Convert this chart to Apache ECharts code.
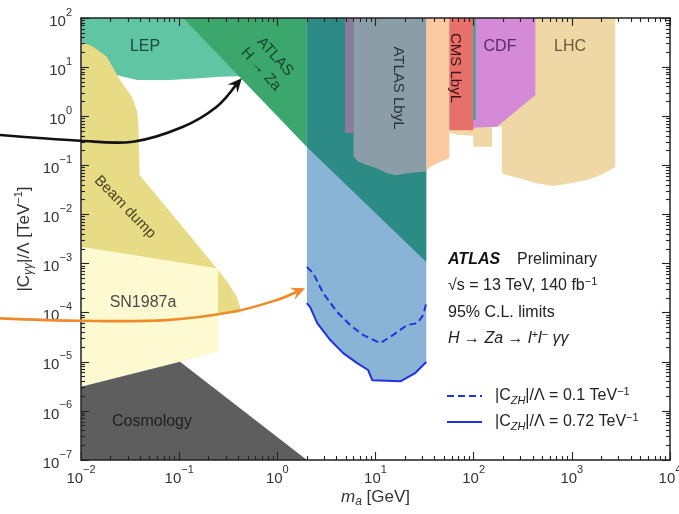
<!DOCTYPE html>
<html><head><meta charset="utf-8">
<script src="https://cdn.jsdelivr.net/npm/echarts@6/dist/echarts.min.js"></script>
<style>html,body{margin:0;padding:0;background:#fff}#c{width:679px;height:514px}</style>
</head><body><div id="c"></div>
<script>
const FONT = "'Liberation Sans', Arial, Helvetica, sans-serif";

// ---- axis ticks ----
const xMajorTicks = [0.01, 0.1, 1, 10, 100, 1000, 10000];
const yMajorTicks = [1e-7, 1e-6, 1e-5, 1e-4, 1e-3, 1e-2, 1e-1, 1, 10, 100];
const minorMultipliers = [2, 3, 4, 5, 6, 7, 8, 9];

// ---- excluded regions (m_a [GeV], |C_γγ|/Λ [TeV^-1]) ----
const regionLEP = [[0.01,100],[0.45,100],[0.45,6.6],[0.261,6.4],[0.175,6.0],[0.0807,5.46],[0.037,5.46],[0.0231,6.9],[0.01,10]];
const regionBeamDump = [[0.01,32.9],[0.0133,26],[0.0183,16.3],[0.025,5.46],[0.0329,2.49],[0.037,1.34],[0.0384,0.73],[0.0395,0.0634],[0.2416,8.0e-4],[0.315,4.0e-4],[0.386,2.1e-4],[0.425,1.13e-4],[0.425,1.0e-4],[0.01,1.0e-4]];
const regionSN1987a = [[0.01,3.1e-6],[0.01,2.2e-3],[0.2416,8.0e-4],[0.249,7.8e-4],[0.249,1.6e-5],[0.102,1e-5]];
const regionCosmology = [[0.01,1e-7],[0.01,3.1e-6],[0.102,1e-5],[2.0,1e-7]];
const regionHZa = [[0.1097,100],[2.0,100],[2.0,0.236]];
const regionBlueTop = [[2.0,100],[32.9,100]];
const regionOverlap = [[2.0,100],[32.9,100],[32.9,1.07e-3],[2.0,0.236]];
const regionLbyLStrip = [[4.9,100],[5.97,100],[5.97,0.455],[4.9,0.455]];
const regionLbyL = [[5.97,100],[32.9,100],[32.9,0.074],[26.4,0.072],[20.9,0.069],[16.5,0.063],[13.1,0.069],[10.3,0.087],[8.17,0.101],[6.71,0.118],[5.97,0.150]];
const regionPeach = [[32.9,100],[56.4,100],[56.4,0.14],[48,0.122],[42.6,0.11],[37,0.095],[32.9,0.08]];
const regionLHC = [[56.4,100],[2770,100],[2770,0.094],[2466,0.080],[1953,0.063],[1430,0.050],[966,0.043],[648,0.038],[441,0.043],[298,0.054],[219,0.063],[194,0.069],[194,0.61],[154,0.61],[154,0.24],[99,0.24],[99,0.4],[68,0.42],[60,0.45],[56.4,0.45]];
const regionCDF = [[68,100],[425,100],[425,2.7],[173,0.61],[68,0.568]];
const regionCMS = [[56.4,100],[99,100],[99,0.52],[56.4,0.52]];
const regionStrip = [[99,100],[105,100],[105,0.84],[99,0.84]];

// ---- limit curves ----
const limitDashed = [[2.0,8.5e-4],[2.32,6.4e-4],[2.93,2.5e-4],[4.07,1.03e-4],[5.52,5.6e-5],[7.5,3.5e-5],[11.2,2.4e-5],[15.1,3.5e-5],[21.0,5.6e-5],[26.6,6.1e-5],[30.6,8.9e-5],[32.9,1.57e-4]];
const limitSolid = [[2.0,1.57e-4],[2.16,1.3e-4],[2.55,6.1e-5],[3.45,2.8e-5],[4.69,1.5e-5],[6.5,9.4e-6],[8.4,6.8e-6],[9.3,4.2e-6],[17.9,4.0e-6],[25.4,5.9e-6],[32.9,9.9e-6]];
const legendLabels = ['|C{sub|ZH}|/Λ = 0.1 TeV{sup|−1}', '|C{sub|ZH}|/Λ = 0.72 TeV{sup|−1}'];

// ---- annotation arrows (data coords) ----
const arrowBlack = [[0.001493,0.414],[0.00977,0.317],[0.0339,0.303],[0.1096,0.611],[0.2415,1.56],[0.4345,5.92]];
const arrowOrange = [[0.001493,7.66e-5],[0.00977,6.84e-5],[0.0748,7.06e-5],[0.354,1.04e-4],[0.989,1.81e-4],[1.92,3.13e-4]];

function minorOf(majors){ const out=[]; majors.slice(0,-1).forEach(d=>minorMultipliers.forEach(m=>out.push(+(d*m).toPrecision(3)))); return out; }
const xMinorTicks = minorOf(xMajorTicks);
const yMinorTicks = minorOf(yMajorTicks);

const regionBlue = regionBlueTop.concat(limitSolid.slice().reverse());

function poly(name, pts, color){
  return { type:'custom', name, xAxisIndex:0, yAxisIndex:0, data: pts, clip:true, silent:true,
    encode:{x:0,y:1},
    renderItem:(params, api)=>{
      if(params.dataIndex!==0) return null;
      return {type:'polygon', shape:{points: pts.map(p=>api.coord(p))}, style:{fill:color}};
    }};
}

const AX = '#222';
const LBL = '#333';
const tickRich = {
  b:{fontSize:15, fontFamily:FONT, color:LBL, verticalAlign:'bottom', lineHeight:22},
  s:{fontSize:11, fontFamily:FONT, color:LBL, verticalAlign:'top', lineHeight:12}
};
function expLabel(v){ const e=Math.round(Math.log10(v)); return '{b|10}{s|'+(e<0?'−'+(-e):e)+'}'; }

function mkX(pos, major, labels){
  return { type:'log', logBase:10, min:0.01, max:10000, position:pos, z:10,
    axisLine:{show:major, onZero:false, lineStyle:{color:AX,width:1.5}},
    axisTick:{show:true, inside:true, length:major?8:4, customValues: major?xMajorTicks:xMinorTicks, lineStyle:{color:AX,width:1.1}},
    axisLabel:{show:labels, customValues:xMajorTicks, formatter:expLabel, rich:tickRich, margin:4, hideOverlap:false},
    splitLine:{show:false}, minorTick:{show:false}, axisPointer:{show:false} };
}
function mkY(pos, major, labels){
  return { type:'log', logBase:10, min:1e-7, max:100, position:pos, z:10,
    axisLine:{show:major, onZero:false, lineStyle:{color:AX,width:1.5}},
    axisTick:{show:true, inside:true, length:major?8:4, customValues: major?yMajorTicks:yMinorTicks, lineStyle:{color:AX,width:1.1}},
    axisLabel:{show:labels, customValues:yMajorTicks, formatter:expLabel, rich:tickRich, margin:9, hideOverlap:false},
    splitLine:{show:false}, minorTick:{show:false} };
}
const xAxes=[mkX('bottom',true,true), mkX('bottom',false,false), mkX('top',true,false), mkX('top',false,false)];
const yAxes=[mkY('left',true,true), mkY('left',false,false), mkY('right',true,false), mkY('right',false,false)];
xAxes[0].name='{i|m}{sub|a} [GeV]';
xAxes[0].nameLocation='middle'; xAxes[0].nameGap=26; xAxes[0].nameMoveOverlap=false;
xAxes[0].nameTextStyle={fontSize:17, fontFamily:FONT, color:LBL, lineHeight:22,
  rich:{i:{fontSize:17,fontStyle:'italic',fontFamily:FONT,color:LBL}, sub:{fontSize:12,fontStyle:'italic',fontFamily:FONT,color:LBL,verticalAlign:'bottom',lineHeight:17}}};
yAxes[0].name='|C{sub|γγ}|/Λ [TeV{sup|−1}]';
yAxes[0].nameLocation='middle'; yAxes[0].nameGap=46; yAxes[0].nameRotate=90; yAxes[0].nameMoveOverlap=false;
yAxes[0].nameTextStyle={fontSize:17, fontFamily:FONT, color:LBL, lineHeight:22,
  rich:{sub:{fontSize:12,fontStyle:'italic',fontFamily:FONT,color:LBL,verticalAlign:'bottom',lineHeight:17}, sup:{fontSize:11,fontFamily:FONT,color:LBL,verticalAlign:'top',lineHeight:12}}};

const LINE = '#2131e0';
const DASH = [7,4];
const series = [
  poly('LEP', regionLEP, '#5fc5a3'),
  poly('Beam dump', regionBeamDump, '#e7db86'),
  poly('SN1987a', regionSN1987a, '#fdfad2'),
  poly('Cosmology', regionCosmology, '#5e5e5e'),
  poly('ATLAS HZa', regionHZa, '#3ba76d'),
  poly('This result', regionBlue, '#8ab4d6'),
  poly('Overlap', regionOverlap, '#2c8b84'),
  poly('LbyL strip', regionLbyLStrip, '#8d7b9b'),
  poly('ATLAS LbyL', regionLbyL, '#8b9ea8'),
  poly('Peach', regionPeach, '#fbcaa2'),
  poly('LHC', regionLHC, '#efd7a6'),
  poly('CDF', regionCDF, '#d58ad7'),
  poly('CMS LbyL', regionCMS, '#e8706b'),
  poly('Strip', regionStrip, '#39a98b'),
  { type:'line', name:'dashed', data: limitDashed, xAxisIndex:0, yAxisIndex:0, showSymbol:false, symbol:'none', clip:true,
    lineStyle:{color:LINE, width:2, type:DASH}, itemStyle:{color:LINE}, z:5 },
  { type:'line', name:'solid', data: limitSolid, xAxisIndex:0, yAxisIndex:0, showSymbol:false, symbol:'none', clip:true,
    lineStyle:{color:LINE, width:2}, itemStyle:{color:LINE}, z:5 }
];

const chart = echarts.init(document.getElementById('c'), null, {renderer:'canvas'});
chart.setOption({
  animation:false,
  backgroundColor:'#fff',
  grid:{left:81, right:9, top:18, bottom:54, show:false, containLabel:false, outerBoundsMode:'none'},
  xAxis:xAxes, yAxis:yAxes, series
});

function T(text, x, y, opt){
  opt = opt || {};
  return { type:'text', x, y, rotation: opt.rot||0, z:50, silent:true,
    style:{ text, fill: opt.color||'#2a2a2a', font: (opt.style||'normal')+' '+(opt.weight||'normal')+' '+(opt.size||16)+'px '+FONT,
      fontSize: opt.size||16, fontFamily:FONT, fontWeight:opt.weight||'normal', fontStyle:opt.style||'normal',
      align: opt.align||'center', verticalAlign:'middle', textAlign: opt.align||'center', textVerticalAlign:'middle',
      lineHeight: opt.lh||18, rich: opt.rich } };
}
function arrow(pts, color){
  const px = pts.map(p=>chart.convertToPixel({xAxisIndex:0,yAxisIndex:0}, p));
  const n=px.length, tip=px[n-1], prev=px[n-2];
  let dx=tip[0]-prev[0], dy=tip[1]-prev[1]; const L=Math.hypot(dx,dy); dx/=L; dy/=L;
  const len=14, half=6.5, notch=9;
  const bx=tip[0]-len*dx, by=tip[1]-len*dy;
  const nt=[tip[0]-notch*dx, tip[1]-notch*dy];
  return [
    {type:'polyline', z:60, silent:true, shape:{points: px.slice(0,-1).concat([nt]), smooth:0.35}, style:{stroke:color, lineWidth:2.6, fill:null}},
    {type:'polygon', z:61, silent:true, shape:{points:[tip,[bx-half*dy,by+half*dx],nt,[bx+half*dy,by-half*dx]]}, style:{fill:color}}
  ];
}
const R = {sup:{fontSize:11,fontFamily:FONT,color:'#222',verticalAlign:'top',lineHeight:12},
           sub:{fontSize:11,fontStyle:'italic',fontFamily:FONT,color:'#222',verticalAlign:'bottom',lineHeight:16},
           i:{fontSize:16,fontStyle:'italic',fontFamily:FONT,color:'#222',lineHeight:20},
           si:{fontSize:11,fontStyle:'italic',fontFamily:FONT,color:'#222',verticalAlign:'top',lineHeight:12}};
function legendGraphics(){
  const rows = [{y:396, dash:DASH, label:legendLabels[0]}, {y:422, dash:null, label:legendLabels[1]}];
  const out=[];
  rows.forEach(r=>{
    out.push({type:'line', z:50, silent:true, shape:{x1:447,y1:r.y,x2:482,y2:r.y}, style:{stroke:LINE, lineWidth:2, lineDash:r.dash||null}});
    out.push(T(r.label, 495, r.y, {align:'left', size:16, color:'#222', rich:R, lh:20}));
  });
  return out;
}
const graphics = [
  T('LEP', 145, 47, {color:'#1d4b45', size:16}),
  T('ATLAS\nH → Za', 268, 63, {color:'#133f2a', size:15, rot:-0.84, lh:19}),
  T('ATLAS LbyL', 398, 88, {color:'#27333c', size:15, rot:-Math.PI/2}),
  T('CMS LbyL', 455, 68, {color:'#3a1818', size:15, rot:-Math.PI/2}),
  T('CDF', 500, 47, {color:'#5a2a70', size:16}),
  T('LHC', 570, 47, {color:'#6a5836', size:16}),
  T('Beam dump', 125, 207, {color:'#4a4420', size:15, rot:-0.8}),
  T('SN1987a', 143, 303, {color:'#4a4a4a', size:16}),
  T('Cosmology', 152, 422, {color:'#1e1e1e', size:16}),
  T('ATLAS', 448, 260, {align:'left', size:16, weight:'bold', style:'italic', color:'#111'}),
  T('Preliminary', 517, 260, {align:'left', size:16, color:'#222'}),
  T('√s = 13 TeV, 140 fb{sup|−1}', 448, 286, {align:'left', size:16, color:'#222', rich:R, lh:20}),
  T('95% C.L. limits', 448, 313, {align:'left', size:16, color:'#222'}),
  T('{i|H → Za → l}{si|+}{i|l}{si|−}{i| γγ}', 448, 339, {align:'left', size:16, color:'#222', rich:R, lh:20})
].concat(legendGraphics(), arrow(arrowBlack, '#111111'), arrow(arrowOrange, '#ef8a2b'));
chart.setOption({graphic: graphics});
</script></body></html>
